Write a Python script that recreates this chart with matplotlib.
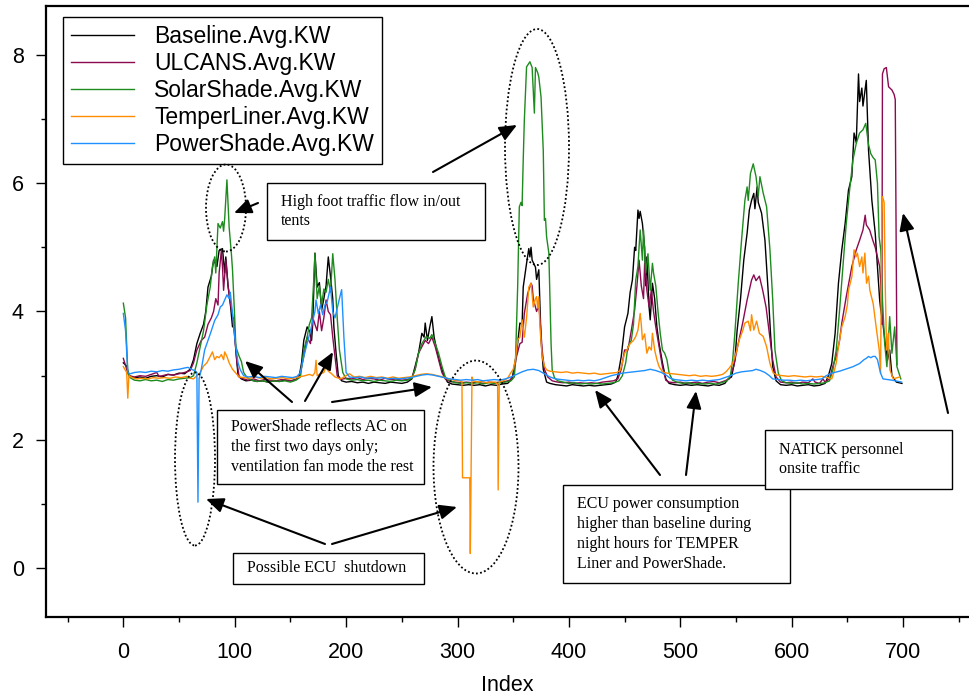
import numpy as np
import matplotlib.pyplot as plt
from matplotlib.patches import Ellipse, Rectangle
from matplotlib.ticker import MultipleLocator

W, H = 969, 698

# (Index, KW) pairs
baseline = [
    (0, 3.20), (3, 3.15), (5, 3.00), (10, 2.97), (15, 2.98), (20, 2.96), (25, 2.99), (30, 3.00),
    (35, 2.98), (40, 3.02), (45, 3.01), (50, 3.04), (55, 3.03), (60, 3.10), (63, 3.25), (66, 3.50),
    (69, 3.66), (72, 3.80), (74, 4.00), (76, 4.38), (79, 4.55), (81, 4.80), (84, 4.70), (86, 4.95),
    (89, 4.98), (91, 4.60), (92, 4.85), (94, 4.40), (96, 4.13), (98, 3.76), (99, 3.90), (101, 3.40),
    (103, 3.00), (106, 2.95), (110, 2.92), (115, 2.93), (120, 2.91), (125, 2.92), (130, 2.90),
    (135, 2.92), (140, 2.91), (145, 2.93), (150, 2.92), (155, 2.94), (158, 3.00), (160, 3.20),
    (162, 3.55), (165, 3.76), (167, 3.70), (169, 3.55), (170, 3.80), (172, 4.91), (174, 4.38),
    (176, 4.45), (178, 4.02), (180, 4.20), (182, 4.40), (184, 4.85), (186, 4.54), (188, 4.20),
    (189, 3.76), (191, 3.35), (193, 3.00), (196, 2.92), (200, 2.90), (205, 2.91), (210, 2.89),
    (215, 2.90), (220, 2.88), (225, 2.90), (230, 2.89), (235, 2.88), (240, 2.90), (245, 2.89),
    (250, 2.88), (255, 2.90), (259, 2.95), (262, 3.15), (265, 3.35), (268, 3.66), (270, 3.60),
    (271, 3.82), (273, 3.55), (275, 3.75), (277, 3.92), (279, 3.60), (282, 3.35), (285, 3.15),
    (288, 3.00), (291, 2.90), (295, 2.87), (300, 2.86), (305, 2.85), (310, 2.86), (315, 2.85),
    (320, 2.86), (325, 2.84), (330, 2.86), (335, 2.85), (340, 2.87), (345, 2.88), (349, 2.95),
    (351, 3.15), (353, 3.35), (356, 3.82), (358, 3.80), (359, 4.38), (362, 4.75), (364, 4.98),
    (365, 4.85), (366, 5.00), (367, 4.80), (370, 4.69), (371, 4.50), (373, 4.65), (374, 4.12),
    (375, 3.56), (377, 3.10), (380, 2.90), (383, 2.88), (388, 2.86), (393, 2.85), (398, 2.84),
    (403, 2.86), (408, 2.85), (413, 2.84), (418, 2.85), (423, 2.84), (428, 2.85), (433, 2.86),
    (438, 2.87), (442, 2.90), (444, 3.00), (447, 3.30), (450, 3.76), (453, 3.97), (455, 4.30),
    (457, 4.49), (459, 5.00), (460, 4.95), (462, 5.58), (463, 5.45), (464, 5.56), (466, 5.37),
    (468, 5.00), (469, 4.40), (470, 4.85), (472, 4.07), (473, 3.87), (475, 4.44), (477, 4.20),
    (479, 3.76), (481, 3.50), (484, 3.20), (487, 2.95), (490, 2.88), (495, 2.86), (500, 2.85),
    (505, 2.86), (510, 2.85), (515, 2.86), (520, 2.85), (525, 2.84), (530, 2.86), (535, 2.85),
    (540, 2.88), (543, 2.95), (546, 2.98), (549, 3.24), (551, 3.70), (554, 4.18), (557, 4.80),
    (560, 5.22), (562, 5.58), (564, 5.73), (566, 5.84), (567, 5.60), (569, 5.94), (570, 5.70),
    (573, 5.53), (576, 5.11), (579, 4.28), (581, 3.66), (583, 3.14), (586, 2.92), (590, 2.86),
    (595, 2.85), (600, 2.86), (605, 2.84), (610, 2.85), (615, 2.86), (620, 2.84), (625, 2.85),
    (630, 2.88), (633, 3.00), (636, 3.19), (639, 3.66), (642, 4.44), (645, 4.96), (648, 5.37),
    (651, 5.89), (654, 6.10), (656, 6.78), (658, 6.63), (660, 7.70), (661, 7.27), (663, 7.48),
    (664, 7.20), (667, 7.60), (669, 6.51), (672, 5.73), (675, 5.22), (678, 4.44), (679, 4.18),
    (680, 4.02), (682, 3.80), (684, 3.50), (686, 3.24), (688, 3.40), (690, 3.00), (694, 2.90),
    (699, 2.88),
]

ulcans = [
    (0, 3.27), (3, 3.10), (5, 3.00), (10, 2.98), (15, 3.00), (20, 2.99), (25, 3.02), (30, 3.05),
    (32, 2.99), (35, 3.00), (40, 3.02), (45, 3.01), (50, 3.03), (55, 3.05), (60, 3.08), (63, 3.20),
    (66, 3.40), (70, 3.55), (73, 3.60), (76, 3.80), (79, 3.90), (81, 4.00), (83, 4.20), (85, 4.10),
    (86, 4.60), (88, 4.95), (89, 4.70), (90, 4.33), (92, 4.80), (94, 4.40), (96, 4.13), (98, 3.95),
    (100, 3.60), (102, 3.20), (104, 2.98), (108, 2.95), (112, 2.93), (117, 2.95), (122, 2.92),
    (127, 2.94), (132, 2.93), (137, 2.92), (142, 2.94), (147, 2.93), (152, 2.92), (156, 2.95),
    (159, 3.05), (162, 3.30), (165, 3.60), (168, 3.50), (170, 3.91), (172, 3.80), (174, 3.70),
    (176, 4.00), (178, 3.70), (180, 3.90), (182, 4.18), (184, 4.00), (186, 3.95), (188, 3.60),
    (190, 3.30), (192, 3.00), (195, 2.94), (200, 2.96), (205, 2.95), (210, 2.97), (215, 2.94),
    (220, 2.96), (225, 2.95), (230, 2.93), (235, 2.96), (240, 2.94), (245, 2.95), (250, 2.93),
    (255, 2.94), (259, 2.97), (262, 3.10), (265, 3.35), (268, 3.45), (271, 3.55), (274, 3.50),
    (277, 3.60), (280, 3.45), (283, 3.25), (286, 3.05), (289, 2.95), (293, 2.91), (298, 2.90),
    (303, 2.89), (308, 2.90), (313, 2.89), (318, 2.90), (323, 2.88), (328, 2.90), (333, 2.89),
    (338, 2.90), (343, 2.91), (347, 2.93), (350, 3.00), (353, 3.30), (356, 3.50), (358, 3.52),
    (360, 3.97), (363, 4.28), (366, 4.44), (367, 4.40), (368, 4.20), (370, 4.07), (371, 4.00),
    (373, 4.10), (374, 3.90), (376, 3.40), (378, 3.10), (381, 2.98), (385, 2.92), (390, 2.90),
    (395, 2.89), (400, 2.90), (405, 2.88), (410, 2.89), (415, 2.88), (420, 2.89), (425, 2.88),
    (430, 2.90), (435, 2.91), (440, 2.92), (444, 2.95), (447, 3.10), (450, 3.40), (453, 3.40),
    (456, 3.70), (459, 4.02), (461, 4.38), (463, 4.80), (465, 4.40), (467, 4.20), (468, 4.75),
    (470, 4.33), (472, 4.07), (474, 4.33), (476, 4.00), (478, 3.76), (481, 3.45), (484, 3.14),
    (487, 2.93), (490, 2.90), (495, 2.89), (500, 2.90), (505, 2.88), (510, 2.89), (515, 2.90),
    (520, 2.88), (525, 2.90), (530, 2.91), (535, 2.89), (540, 2.92), (544, 2.95), (548, 3.15),
    (552, 3.50), (556, 3.82), (560, 4.18), (564, 4.49), (566, 4.57), (568, 4.48), (571, 4.55),
    (574, 4.33), (577, 4.07), (580, 3.66), (583, 3.24), (586, 2.98), (590, 2.90), (595, 2.89),
    (600, 2.90), (605, 2.88), (610, 2.90), (615, 2.89), (619, 2.95), (621, 2.90), (625, 2.88),
    (628, 2.95), (630, 2.90), (634, 2.95), (637, 3.15), (640, 3.30), (643, 3.55), (645, 3.82),
    (649, 4.23), (654, 4.70), (658, 4.96), (661, 5.11), (664, 5.27), (666, 5.50), (667, 5.35),
    (670, 5.27), (673, 5.10), (675, 5.00), (677, 4.85), (679, 4.70), (680, 4.44), (681, 3.80),
    (681.5, 7.70), (683, 7.78), (685, 7.80), (687, 7.50), (690, 7.45), (692, 7.38), (693, 7.30),
    (694.5, 3.17),
]

solarshade = [
    (0, 4.13), (2, 3.90), (4, 3.05), (6, 2.97), (10, 2.93), (15, 2.92), (20, 2.94), (25, 2.92),
    (30, 2.93), (35, 2.91), (40, 2.94), (45, 2.93), (50, 2.95), (55, 2.96), (60, 2.97), (63, 3.00),
    (66, 3.20), (69, 3.45), (72, 3.70), (75, 4.10), (78, 4.38), (80, 4.70), (82, 4.85), (83, 4.60),
    (85, 5.37), (87, 5.30), (89, 5.40), (90, 5.25), (91, 5.45), (93, 6.05), (95, 5.31), (97, 4.90),
    (98, 4.65), (100, 3.90), (101, 3.45), (104, 3.30), (106, 3.22), (108, 3.05), (111, 2.97),
    (115, 2.93), (120, 2.91), (125, 2.92), (130, 2.90), (135, 2.92), (140, 2.91), (145, 2.92),
    (150, 2.90), (155, 2.93), (159, 2.98), (162, 3.40), (165, 3.60), (167, 3.80), (169, 3.90),
    (171, 4.50), (172, 4.90), (174, 4.20), (176, 4.40), (178, 4.10), (180, 4.35), (182, 4.30),
    (184, 4.50), (186, 4.30), (188, 4.90), (190, 4.50), (192, 3.90), (194, 3.40), (197, 3.05),
    (200, 2.95), (205, 2.93), (210, 2.94), (215, 2.92), (220, 2.93), (225, 2.91), (230, 2.93),
    (235, 2.92), (240, 2.91), (245, 2.93), (250, 2.92), (255, 2.93), (259, 2.96), (262, 3.10),
    (265, 3.35), (268, 3.50), (272, 3.61), (275, 3.58), (277, 3.64), (280, 3.50), (283, 3.35),
    (286, 3.15), (289, 2.98), (293, 2.92), (298, 2.89), (303, 2.88), (308, 2.89), (313, 2.88),
    (318, 2.89), (323, 2.87), (328, 2.89), (333, 2.88), (338, 2.89), (343, 2.90), (348, 2.92),
    (351, 2.98), (352, 3.20), (354, 4.38), (355.5, 5.63), (357, 5.70), (358, 5.65), (359, 6.36),
    (360, 6.98), (361, 7.40), (362, 7.81), (365, 7.89), (367, 7.80), (369, 7.09), (370, 7.80),
    (372, 7.72), (373, 7.65), (375, 7.34), (377, 6.50), (378, 5.42), (379, 5.45), (380, 5.16),
    (382, 4.91), (384, 3.50), (385, 3.09), (387, 2.97), (390, 2.92), (395, 2.90), (400, 2.88),
    (405, 2.89), (410, 2.87), (415, 2.88), (420, 2.87), (425, 2.88), (430, 2.87), (435, 2.88),
    (440, 2.89), (445, 2.92), (448, 3.00), (451, 3.20), (453, 3.45), (456, 3.55), (458, 3.80),
    (460, 4.49), (462, 4.70), (463, 5.00), (464, 5.27), (466, 4.80), (467, 5.27), (469, 4.60),
    (471, 4.90), (473, 4.33), (475, 4.75), (476, 4.60), (478, 4.40), (480, 4.00), (482, 3.66),
    (484, 3.40), (486, 3.35), (488, 3.25), (490, 3.04), (493, 2.93), (497, 2.90), (502, 2.88),
    (507, 2.89), (512, 2.87), (517, 2.88), (522, 2.87), (527, 2.88), (532, 2.87), (537, 2.89),
    (542, 2.92), (545, 3.00), (547, 3.24), (549, 3.66), (552, 4.43), (555, 5.11), (558, 5.73),
    (560, 5.94), (561, 5.73), (563, 6.15), (565.5, 6.30), (568, 6.10), (570, 5.80), (571.5, 6.10),
    (574.5, 5.84), (577.5, 5.63), (580.5, 4.96), (583, 4.18), (585, 3.40), (588, 3.04),
    (591, 2.92), (595, 2.89), (600, 2.88), (605, 2.89), (610, 2.87), (615, 2.88), (620, 2.87),
    (625, 2.88), (630, 2.89), (634, 2.92), (637, 3.09), (640, 3.40), (643, 4.02), (646, 4.70),
    (649, 5.37), (652, 5.89), (655, 6.36), (658, 6.62), (661, 6.78), (664, 6.83), (666.5, 6.93),
    (669, 6.60), (671, 6.46), (673, 6.40), (675, 6.36), (677, 6.00), (678.5, 5.16), (680, 4.96),
    (681.5, 4.18), (683.5, 3.50), (685.5, 3.14), (688, 3.92), (690, 3.35), (692.5, 3.76),
    (694.5, 3.14), (698, 2.95),
]

temperliner = [
    (0, 3.14), (3, 3.05), (4, 2.65), (5, 3.00), (8, 2.97), (12, 2.95), (17, 2.96), (22, 2.95),
    (27, 2.97), (32, 2.96), (37, 2.97), (42, 2.96), (47, 2.98), (52, 2.97), (57, 2.99), (60, 2.96),
    (63, 2.95), (66, 3.00), (69, 3.05), (72, 3.15), (75, 3.20), (78, 3.30), (80, 3.37), (82, 3.25),
    (84, 3.30), (86, 3.28), (88, 3.33), (90, 3.25), (91, 3.37), (93, 3.30), (95, 3.20), (98, 3.10),
    (101, 3.04), (104, 2.98), (108, 2.97), (113, 2.96), (118, 2.98), (123, 2.96), (128, 2.97),
    (133, 2.95), (138, 2.96), (143, 2.97), (148, 2.95), (153, 2.96), (158, 2.98), (163, 3.00),
    (167, 3.02), (170, 3.00), (172, 3.05), (173, 3.24), (174, 3.00), (177, 3.03), (180, 3.05),
    (182, 3.14), (184, 3.07), (187, 3.03), (190, 2.98), (195, 2.95), (200, 3.00), (203, 3.03),
    (207, 2.98), (212, 2.99), (217, 2.97), (222, 2.99), (227, 2.97), (232, 2.98), (237, 2.96),
    (242, 2.98), (247, 2.96), (252, 2.97), (257, 2.98), (262, 3.00), (267, 3.02), (272, 3.03),
    (277, 3.02), (282, 3.00), (287, 2.98), (292, 2.95), (297, 2.93), (301, 2.92), (304, 2.91),
    (304.5, 1.41), (311, 1.41), (311.5, 0.23), (313, 2.98), (314, 2.92), (318, 2.90), (322, 2.91),
    (326, 2.89), (330, 2.90), (334, 2.90), (336, 2.86), (336.5, 1.22), (337.5, 2.90), (341, 2.92),
    (345, 2.96), (348, 3.05), (350, 3.10), (352, 3.25), (354, 3.56), (356, 3.60), (358, 3.87),
    (360, 3.60), (362, 3.90), (364, 4.38), (366, 4.44), (368, 4.07), (370, 4.20), (371, 4.23),
    (372, 4.05), (373, 4.23), (374, 3.76), (376, 3.30), (378, 3.15), (380, 3.09), (383, 3.07),
    (388, 3.06), (393, 3.05), (398, 3.06), (403, 3.04), (408, 3.05), (413, 3.04), (418, 3.03),
    (423, 3.04), (428, 3.02), (433, 3.03), (438, 3.04), (443, 3.05), (446, 3.08), (448, 3.20),
    (450, 3.35), (452, 3.40), (455, 3.50), (458, 3.55), (460, 3.61), (462, 3.71), (464, 3.97),
    (465, 3.80), (466, 3.56), (468, 3.65), (470, 3.35), (472, 3.45), (474, 3.40), (475, 3.66),
    (477, 3.40), (479, 3.25), (481, 3.14), (484, 3.06), (488, 3.04), (493, 3.03), (498, 3.02),
    (503, 3.01), (508, 3.00), (513, 3.01), (518, 2.99), (523, 3.00), (528, 2.99), (533, 3.00),
    (538, 3.02), (541, 3.06), (544, 3.12), (547, 3.19), (550, 3.35), (553, 3.56), (556, 3.70),
    (558, 3.82), (561, 3.85), (563, 3.70), (564, 3.95), (566, 3.71), (568.5, 3.85), (571, 3.66),
    (574.5, 3.61), (577.5, 3.45), (580.5, 3.19), (583.5, 3.04), (587, 3.01), (592, 3.00),
    (597, 2.99), (602, 3.00), (607, 2.99), (612, 2.98), (617, 2.99), (622, 2.98), (627, 2.99),
    (632, 2.97), (636, 2.95), (638, 3.06), (640, 3.20), (642, 3.45), (645, 3.76), (648, 3.92),
    (650, 4.10), (651, 4.33), (654, 4.54), (656, 4.96), (657.7, 4.85), (659, 4.91), (661, 4.70),
    (663, 4.85), (664, 4.60), (665.7, 4.91), (667.2, 4.44), (669, 4.55), (670.2, 4.33),
    (673.2, 4.12), (676.2, 3.71), (678.6, 3.40), (679.8, 3.04), (681, 5.50), (681.6, 5.79),
    (683, 5.70), (684, 4.40), (685.2, 3.40), (686.7, 3.66), (688.2, 3.09), (691.2, 2.95),
    (697, 2.98),
]

powershade = [
    (0, 3.97), (2, 3.70), (4, 3.05), (6, 3.03), (10, 3.05), (15, 3.06), (20, 3.05), (25, 3.07),
    (30, 3.06), (35, 3.08), (40, 3.07), (45, 3.09), (50, 3.10), (55, 3.12), (58, 3.13), (61, 3.10),
    (64, 3.08), (66, 3.05), (67, 1.03), (68, 2.95), (70, 3.10), (73, 3.40), (76, 3.55), (79, 3.70),
    (82, 3.86), (85, 3.95), (87, 4.07), (89, 4.10), (91, 4.18), (93, 4.26), (95, 4.20), (96, 4.30),
    (98, 3.97), (100, 3.60), (101, 3.45), (103, 3.20), (105, 3.09), (108, 3.00), (112, 2.98),
    (117, 2.99), (122, 2.97), (127, 2.99), (132, 2.98), (137, 2.97), (142, 2.99), (147, 2.98),
    (152, 2.97), (156, 2.99), (159, 3.05), (162, 3.30), (165, 3.50), (168, 3.70), (170, 3.85),
    (172, 4.00), (173, 4.18), (175, 3.97), (177, 4.10), (179, 3.95), (181, 4.10), (183, 4.15),
    (185, 4.30), (186, 4.38), (188, 4.00), (190, 3.90), (192, 4.05), (194, 4.20), (196, 4.34),
    (198, 3.60), (200, 3.05), (203, 2.98), (208, 2.97), (213, 2.98), (218, 2.96), (223, 2.97),
    (228, 2.96), (233, 2.97), (238, 2.95), (243, 2.96), (248, 2.95), (253, 2.96), (258, 2.97),
    (263, 2.99), (268, 3.01), (273, 3.02), (278, 3.01), (283, 2.99), (288, 2.97), (293, 2.95),
    (298, 2.94), (303, 2.93), (308, 2.94), (313, 2.93), (318, 2.94), (323, 2.92), (328, 2.93),
    (333, 2.94), (338, 2.93), (343, 2.95), (348, 2.98), (353, 3.02), (358, 3.06), (363, 3.09),
    (368, 3.10), (373, 3.08), (378, 3.03), (383, 2.98), (388, 2.95), (393, 2.94), (398, 2.93),
    (403, 2.92), (408, 2.93), (413, 2.92), (418, 2.93), (423, 2.92), (428, 2.94), (433, 2.97),
    (438, 3.00), (443, 3.02), (448, 3.04), (453, 3.05), (458, 3.06), (463, 3.07), (468, 3.08),
    (473, 3.10), (478, 3.08), (483, 3.05), (488, 3.00), (491, 2.96), (495, 2.94), (500, 2.93),
    (505, 2.92), (510, 2.93), (515, 2.92), (520, 2.93), (525, 2.92), (530, 2.93), (535, 2.94),
    (540, 2.97), (545, 3.00), (550, 3.04), (555, 3.06), (560, 3.07), (565, 3.08), (568, 3.10),
    (572, 3.08), (576, 3.05), (580, 3.00), (583, 2.95), (588, 2.94), (593, 2.93), (598, 2.93),
    (603, 2.92), (608, 2.93), (613, 2.92), (618, 2.93), (623, 2.94), (627, 2.95), (631, 3.00),
    (636, 3.04), (643, 3.07), (650, 3.11), (655, 3.14), (661, 3.19), (665, 3.25), (667, 3.27),
    (669, 3.30), (671, 3.28), (673, 3.30), (675, 3.30), (677, 3.25), (679.8, 3.04), (682, 2.95),
    (690, 2.93), (698.7, 2.90),
]

series = [
    ('Baseline.Avg.KW', baseline, '#000000'),
    ('ULCANS.Avg.KW', ulcans, '#8b0a50'),
    ('SolarShade.Avg.KW', solarshade, '#1e8b1e'),
    ('TemperLiner.Avg.KW', temperliner, '#ff8c00'),
    ('PowerShade.Avg.KW', powershade, '#1e90ff'),
]

# annotation layout, in reference pixels (x right, y down)
notes = [
    (267, 183, 485, 240, ['High foot traffic flow in/out', 'tents']),
    (217, 410, 424, 484, ['PowerShade reflects AC on', 'the first two days only;',
                          'ventilation fan mode the rest']),
    (233, 553, 424, 584, ['Possible ECU  shutdown']),
    (563, 485, 790, 583, ['ECU power consumption', 'higher than baseline during',
                          'night hours for TEMPER', 'Liner and PowerShade.']),
    (765, 430, 952, 489, ['NATICK personnel', 'onsite traffic']),
]
arrows = [
    ((258, 203), (234, 213)), ((433, 172), (517, 125)),
    ((292, 402), (245, 361)), ((305, 401), (333, 352)), ((332, 402), (432, 387)),
    ((325, 544), (206, 499)), ((332, 544), (457, 507)),
    ((660, 475), (595, 390)), ((686, 475), (696, 391)),
    ((948, 413), (903, 213)),
]
ellipses = [((226, 208), 40, 87), ((195, 459), 40, 173),
            ((537, 147), 64, 236), ((476, 467), 85, 213)]


def fpos(x, y):
    return (x / W, 1 - y / H)


plt.rcParams['font.family'] = ['Liberation Sans', 'DejaVu Sans']

fig = plt.figure(figsize=(W / 100, H / 100), dpi=100)
ax = fig.add_axes([45.7 / W, 1 - 616.7 / H, 1 - 45.7 / W, (616.7 - 5.7) / H])

for label, pts, color in series:
    x, y = np.array(pts).T
    ax.plot(x, y, color=color, lw=1.0, label=label)

ax.set_xlim(-69.7, 759.2)
ax.set_ylim(-0.754, 8.763)
ax.spines['right'].set_visible(False)
for s in ['left', 'top', 'bottom']:
    ax.spines[s].set_linewidth(1.6)

ax.xaxis.set_major_locator(MultipleLocator(100))
ax.xaxis.set_minor_locator(MultipleLocator(50))
ax.yaxis.set_major_locator(MultipleLocator(2))
ax.yaxis.set_minor_locator(MultipleLocator(1))
ax.set_xticks(np.arange(0, 701, 100))
ax.tick_params(which='major', length=7.2, width=1, labelsize=15.5, pad=8.5)
ax.tick_params(axis='x', which='major', pad=11)
ax.tick_params(which='minor', length=3.6, width=1)
ax.set_xlabel('Index', fontsize=15.5, labelpad=9)

leg = ax.legend(loc='upper left', bbox_to_anchor=fpos(63, 17), bbox_transform=fig.transFigure,
                borderaxespad=0, fontsize=16.5, handlelength=2.75, handletextpad=0.9,
                labelspacing=0.18, borderpad=0.33, fancybox=False, framealpha=1)
leg.get_frame().set_edgecolor('black')
leg.get_frame().set_linewidth(1.0)

for (cx, cy), w, h in ellipses:
    fig.add_artist(Ellipse(fpos(cx, cy), w / W, h / H, transform=fig.transFigure,
                           fill=False, ec='black', lw=1.3, ls=(0, (1, 1.3))))

for x0, y0, x1, y1, lines in notes:
    fig.add_artist(Rectangle(fpos(x0, y1), (x1 - x0) / W, (y1 - y0) / H,
                             transform=fig.transFigure, fc='white', ec='black', lw=1.0))
    n = len(lines)
    mid = (y0 + y1) / 2
    for i, line in enumerate(lines):
        ty = mid + (i - (n - 1) / 2) * 19.8
        fig.text(*fpos(x0 + 14, ty), line, family='Liberation Serif', fontsize=11.5,
                 ha='left', va='center')

for tail, head in arrows:
    ax.annotate('', xy=fpos(*head), xytext=fpos(*tail), xycoords='figure fraction',
                textcoords='figure fraction', annotation_clip=False,
                arrowprops=dict(arrowstyle='-|>,head_length=0.7,head_width=0.3',
                                color='black', lw=1.5, shrinkA=0, shrinkB=0,
                                mutation_scale=15))

fig.savefig('out.png', dpi=100)
